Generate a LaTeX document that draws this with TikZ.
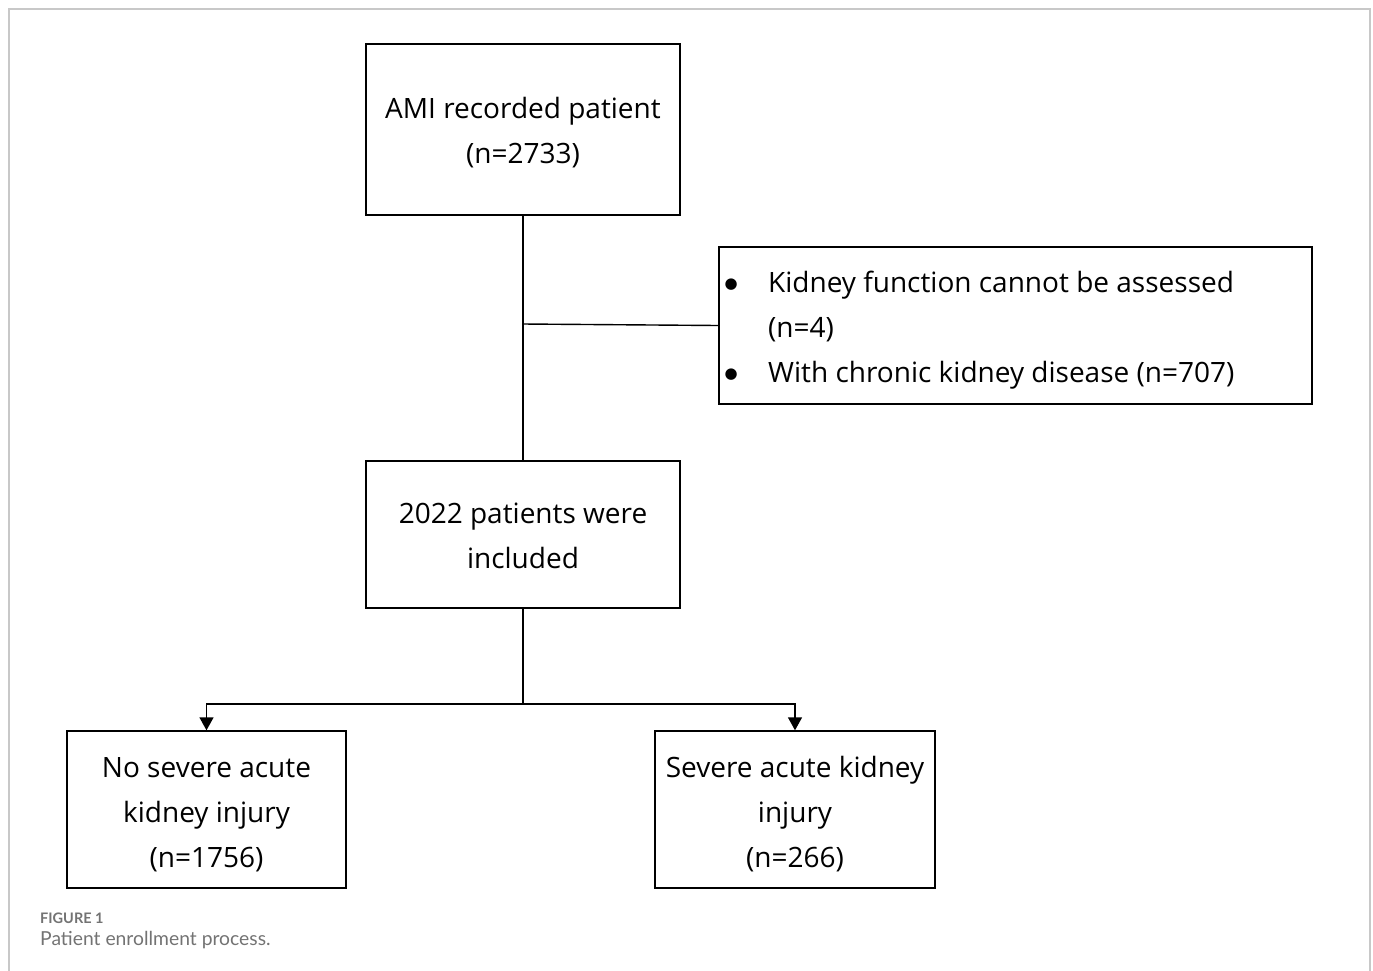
\documentclass[tikz,border=0pt]{standalone}
\usepackage{fontspec}
\setmainfont{Open Sans}
\newfontfamily\capfont{Lato}
\newfontfamily\symfont{DejaVu Sans}
\usetikzlibrary{arrows.meta}
\definecolor{framegray}{RGB}{200,200,200}
\definecolor{capgray}{RGB}{115,115,115}
\newcommand{\mybul}{\makebox[24pt][c]{\raisebox{4pt}{\symfont\fontsize{15}{45}\selectfont ●}}}
\begin{document}
\begin{tikzpicture}[x=1pt,y=-1pt,
  box/.style={draw=black,line width=1.4pt,align=center,inner sep=0pt,
    font=\fontsize{28}{45}\selectfont},
  conn/.style={draw=black,line width=1.4pt},
  arr/.style={conn,-{Triangle[width=14pt,length=13pt]}}]
\useasboundingbox (0,0) rectangle (1373,970);
\draw[framegray,line width=1.2pt] (9,975) -- (9,9) -- (1370,9) -- (1370,975);
% boxes
\node[box,minimum width=314pt,minimum height=171pt] (ami) at (523,129.5)
  {\rule{0pt}{27.5pt}AMI recorded patient\\(n=2733)};
\node[box,minimum width=593pt,minimum height=157pt] (excl) at (1015.5,325.5) {};
\node[font=\fontsize{28}{45}\selectfont,anchor=west,inner sep=0pt] (excltext) at (719,328)
  {\begin{tabular}{@{}l@{\hspace{25pt}}l@{}}
   \mybul & Kidney function cannot be assessed\\
   & (n=4)\\
   \mybul & With chronic kidney disease (n=707)
   \end{tabular}};
\node[box,minimum width=314pt,minimum height=147pt] (incl) at (523,534.5)
  {\rule{0pt}{23.5pt}2022 patients were\\included};
\node[box,minimum width=279pt,minimum height=157pt] (noaki) at (206.5,809.5)
  {\rule{0pt}{29.5pt}No severe acute\\kidney injury\\(n=1756)};
\node[box,minimum width=280pt,minimum height=157pt] (aki) at (795,809.5)
  {\rule{0pt}{29.5pt}Severe acute kidney\\injury\\(n=266)};
% connectors
\coordinate (branch) at (523,324);
\coordinate (split) at (523,704);
\draw[conn] (ami.south) -- (incl.north);
\draw[conn] (branch) -- (excl.west);
\draw[conn] (incl.south) -- (split);
\draw[arr] (split) -| (noaki.north);
\draw[arr] (split) -| (aki.north);
% caption
\node[anchor=west,inner sep=0pt,text=capgray,font=\capfont\bfseries\fontsize{14.5}{16}\selectfont] (figlab) at (40,918) {FIGURE 1};
\node[anchor=west,inner sep=0pt,text=capgray,font=\capfont\fontsize{19.3}{22}\selectfont] (figcap) at (40,940) {Patient enrollment process.};
\end{tikzpicture}
\end{document}
